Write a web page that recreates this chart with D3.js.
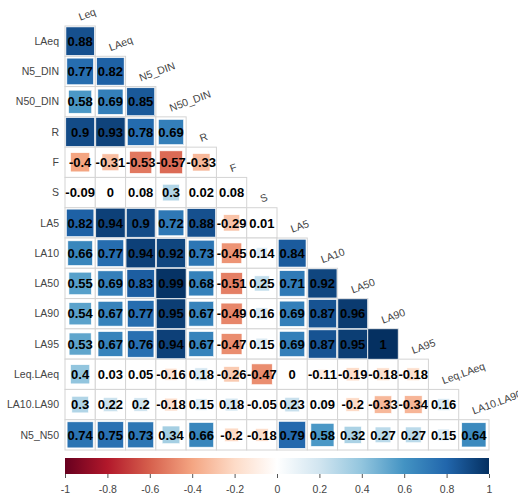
<!DOCTYPE html>
<html>
<head>
<meta charset="utf-8">
<script src="https://cdn.jsdelivr.net/npm/d3@7"></script>
<style>
  html, body { margin: 0; padding: 0; background: #fff; }
  svg { display: block; font-family: "Liberation Sans", Arial, sans-serif; }
</style>
</head>
<body>
<svg id="chart" width="518" height="497"></svg>
<script>
// Variable names (rows and columns of the correlation matrix)
const variables = ["Leq", "LAeq", "N5_DIN", "N50_DIN", "R", "F", "S", "LA5", "LA10",
                   "LA50", "LA90", "LA95", "Leq.LAeq", "LA10.LA90", "N5_N50"];

// Lower triangle of the correlation matrix, row i holds correlations with variables[0..i-1]
const corrLower = [
  [0.88],
  [0.77, 0.82],
  [0.58, 0.69, 0.85],
  [0.9, 0.93, 0.78, 0.69],
  [-0.4, -0.31, -0.53, -0.57, -0.33],
  [-0.09, 0, 0.08, 0.3, 0.02, 0.08],
  [0.82, 0.94, 0.9, 0.72, 0.88, -0.29, 0.01],
  [0.66, 0.77, 0.94, 0.92, 0.73, -0.45, 0.14, 0.84],
  [0.55, 0.69, 0.83, 0.99, 0.68, -0.51, 0.25, 0.71, 0.92],
  [0.54, 0.67, 0.77, 0.95, 0.67, -0.49, 0.16, 0.69, 0.87, 0.96],
  [0.53, 0.67, 0.76, 0.94, 0.67, -0.47, 0.15, 0.69, 0.87, 0.95, 1],
  [0.4, 0.03, 0.05, -0.16, 0.18, -0.26, -0.47, 0, -0.11, -0.19, -0.18, -0.18],
  [0.3, 0.22, 0.2, -0.18, 0.15, 0.18, -0.05, 0.23, 0.09, -0.2, -0.33, -0.34, 0.16],
  [0.74, 0.75, 0.73, 0.34, 0.66, -0.2, -0.18, 0.79, 0.58, 0.32, 0.27, 0.27, 0.15, 0.64]
];

// Colour legend ticks
const legendTicks = [-1, -0.8, -0.6, -0.4, -0.2, 0, 0.2, 0.4, 0.6, 0.8, 1];

// Diverging red-blue palette
const paletteColors = ["#67001F", "#B2182B", "#D6604D", "#F4A582", "#FDDBC7", "#FFFFFF",
                       "#D1E5F0", "#92C5DE", "#4393C3", "#2166AC", "#053061"];

const rowNames = variables.slice(1);
const colNames = variables.slice(0, -1);

const svg = d3.select("#chart");
const gridLeft = 65, gridTop = 26, gridSize = 424;

const x = d3.scaleBand().domain(colNames).range([gridLeft, gridLeft + gridSize]);
const y = d3.scaleBand().domain(rowNames).range([gridTop, gridTop + gridSize]);
const cell = x.bandwidth();

const color = d3.scaleLinear()
  .domain(d3.range(paletteColors.length).map(i => -1 + 2 * i / (paletteColors.length - 1)))
  .range(paletteColors)
  .interpolate(d3.interpolateRgb);

// Plain ASCII hyphen for negative numbers
const fmt = v => String(v);

const cells = [];
corrLower.forEach((row, i) => row.forEach((v, j) => cells.push({ row: rowNames[i], col: colNames[j], v })));

// Grid cells
svg.append("g").selectAll("rect").data(cells).join("rect")
  .attr("x", d => x(d.col)).attr("y", d => y(d.row))
  .attr("width", cell).attr("height", cell)
  .attr("fill", "#fff").attr("stroke", "#d4d4d4").attr("stroke-width", 1);

// Squares sized by sqrt(|r|)
svg.append("g").selectAll("rect").data(cells).join("rect")
  .attr("x", d => x(d.col) + cell * (1 - Math.sqrt(Math.abs(d.v))) / 2)
  .attr("y", d => y(d.row) + cell * (1 - Math.sqrt(Math.abs(d.v))) / 2)
  .attr("width", d => cell * Math.sqrt(Math.abs(d.v)))
  .attr("height", d => cell * Math.sqrt(Math.abs(d.v)))
  .attr("fill", d => color(d.v))
  .attr("stroke", "#fff").attr("stroke-width", 0.6);

// Coefficient labels
svg.append("g").selectAll("text").data(cells).join("text")
  .attr("x", d => x(d.col) + cell / 2)
  .attr("y", d => y(d.row) + cell / 2)
  .attr("dy", "0.36em")
  .attr("text-anchor", "middle")
  .attr("font-size", 13).attr("font-weight", "bold").attr("fill", "#000")
  .text(d => fmt(d.v));

// Row labels
svg.append("g").selectAll("text").data(rowNames).join("text")
  .attr("x", gridLeft - 6)
  .attr("y", d => y(d) + cell / 2)
  .attr("dy", "0.35em")
  .attr("text-anchor", "end")
  .attr("font-size", 10.5).attr("fill", "#444")
  .text(d => d);

// Column labels, placed on the diagonal and tilted
svg.append("g").selectAll("text").data(colNames).join("text")
  .attr("transform", (d, j) => {
    const cx = x(d) + cell / 2;
    const cy = gridTop + (j - 0.5) * cell + 10;
    return `translate(${cx},${cy}) rotate(-20)`;
  })
  .attr("text-anchor", "start")
  .attr("font-size", 10.5).attr("fill", "#444")
  .text(d => d);

// Colour legend
const legendY = 458, legendH = 16;
const lx = d3.scaleLinear().domain([-1, 1]).range([gridLeft, gridLeft + gridSize]);
const defs = svg.append("defs");
const grad = defs.append("linearGradient").attr("id", "corrGradient")
  .attr("x1", "0%").attr("x2", "100%").attr("y1", "0%").attr("y2", "0%");
grad.selectAll("stop").data(paletteColors).join("stop")
  .attr("offset", (d, i) => `${100 * i / (paletteColors.length - 1)}%`)
  .attr("stop-color", d => d);

svg.append("rect")
  .attr("x", gridLeft).attr("y", legendY)
  .attr("width", gridSize).attr("height", legendH)
  .attr("fill", "url(#corrGradient)");

const legendAxis = d3.axisBottom(lx).tickValues(legendTicks).tickSize(4).tickPadding(8)
  .tickFormat(fmt);
const ax = svg.append("g").attr("transform", `translate(0,${legendY + legendH})`).call(legendAxis);
ax.select(".domain").remove();
ax.selectAll(".tick line").attr("stroke", "#555");
ax.selectAll(".tick text").attr("font-size", 10.5).attr("fill", "#444")
  .attr("font-family", "Liberation Sans, Arial, sans-serif");
</script>
</body>
</html>
